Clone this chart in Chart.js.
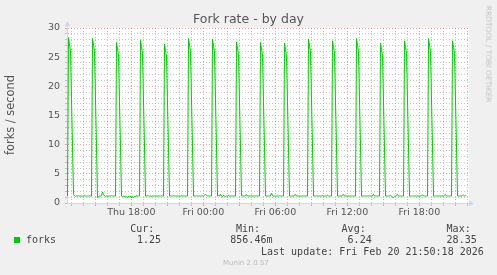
<!DOCTYPE html>
<html>
<head>
<meta charset="utf-8">
<script src="https://cdn.jsdelivr.net/npm/chart.js@4.4.1/dist/chart.umd.min.js"></script>
<style>
  body { margin: 0; background: #f0f0f0; }
  #wrap { position: relative; width: 497px; height: 275px; overflow: hidden; }
  #c { position: absolute; left: 0; top: 0; }
  .t { position: absolute; white-space: nowrap; color: #555; font-family: "DejaVu Sans", sans-serif; }
  .m { position: absolute; white-space: nowrap; color: #444; font-family: "DejaVu Sans Mono", monospace; font-size: 10px; line-height: 10px; }
</style>
</head>
<body>
<div id="wrap">
  <canvas id="c" width="497" height="275"></canvas>
  <div class="t" style="left:0;width:497px;text-align:center;top:13px;font-size:12.5px;line-height:12.5px">Fork rate - by day</div>
  <div class="t" style="left:10px;top:115px;font-size:11.4px;line-height:12px;transform:translate(-50%,-50%) rotate(-90deg)">forks / second</div>
  <div class="t" style="left:487.5px;top:53.5px;font-size:7.5px;line-height:8px;color:#c4c4c4;transform:translate(-50%,-50%) rotate(90deg)">RRDTOOL / TOBI OETIKER</div>
  <div style="position:absolute;left:14px;top:237px;width:6px;height:6px;background:#00cc00"></div>
  <div id="legend"></div>
  <div class="m" style="left:261px;top:246.5px">Last update: Fri Feb 20 21:50:18 2026</div>
  <div class="t" style="left:223px;top:260px;font-size:7px;line-height:7px;color:#bbb">Munin 2.0.57</div>
</div>
<script>
// x axis: hours since Thu 00:00, one sample every 5 minutes
var firstHour = 12.64;
var lastHour = 46.14;
var stepHours = 5 / 60;

var tickHours = [18, 24, 30, 36, 42];
var tickText = ['Thu 18:00', 'Fri 00:00', 'Fri 06:00', 'Fri 12:00', 'Fri 18:00'];

var seriesName = 'forks';
var statNames = ['Cur:', 'Min:', 'Avg:', 'Max:'];
var statValues = ['1.25', '856.46m', '6.24', '28.35'];

// forks / second, one row per 2 hours (a spike then the quiet part)
var forks = [
  1.2, 28.35, 27.1, 26.1, 17.9, 9.7, 1.5, 1.2, 1.15, 1.2, 1.2, 1.25, 1.2, 1.2, 1.15, 1.2, 1.2, 1.25, 1.2, 1.2, 1.2, 1.2, 1.25, 1.2,
  1.2, 28.2, 27.0, 26.0, 17.8, 9.7, 0.9, 1.1, 1.2, 1.2, 1.3, 1.9, 1.5, 1.2, 1.1, 1.2, 1.2, 1.15, 1.2, 1.2, 1.25, 1.2, 1.2, 1.2,
  1.2, 27.5, 26.4, 25.4, 17.4, 9.5, 1.2, 1.1, 1.2, 1.0, 1.2, 1.1, 0.9, 1.2, 1.0, 1.2, 0.86, 1.1, 0.95, 1.2, 1.0, 1.3, 1.2, 1.2,
  1.2, 27.9, 26.7, 25.7, 17.6, 9.6, 1.2, 1.2, 1.25, 1.2, 1.2, 1.2, 1.15, 1.2, 1.2, 1.2, 1.25, 1.2, 1.2, 1.2, 1.2, 1.2, 1.25, 1.2,
  1.2, 27.2, 26.1, 25.2, 17.3, 9.4, 1.2, 1.2, 1.2, 1.2, 1.25, 1.2, 1.2, 1.2, 1.2, 1.2, 1.2, 1.2, 1.25, 1.2, 1.2, 1.2, 1.2, 1.2,
  1.2, 28.2, 27.0, 26.0, 17.8, 9.7, 1.2, 1.2, 1.2, 1.25, 1.2, 1.2, 1.2, 1.2, 1.2, 1.25, 1.2, 1.3, 1.5, 1.3, 1.2, 1.2, 1.2, 1.2,
  1.2, 28.1, 26.9, 25.9, 17.8, 9.6, 1.2, 1.3, 1.2, 1.5, 1.2, 1.1, 1.3, 1.2, 1.1, 1.2, 1.2, 1.3, 1.2, 1.2, 1.2, 1.2, 1.2, 1.2,
  1.2, 27.6, 26.5, 25.5, 17.5, 9.5, 1.2, 1.2, 1.2, 1.2, 1.2, 1.45, 1.2, 1.2, 1.2, 1.2, 1.35, 1.2, 1.2, 1.2, 1.2, 1.2, 1.2, 1.2,
  1.2, 27.5, 26.4, 25.4, 17.4, 9.5, 1.2, 1.2, 1.2, 1.2, 1.2, 1.2, 1.7, 1.3, 1.2, 1.2, 1.2, 1.2, 1.2, 1.2, 1.25, 1.2, 1.2, 1.2,
  1.2, 27.4, 26.3, 25.3, 17.4, 9.4, 1.2, 1.2, 1.2, 1.2, 1.2, 1.3, 1.5, 1.2, 1.2, 1.2, 1.2, 1.2, 1.2, 1.2, 1.2, 1.2, 1.2, 1.2,
  1.2, 28.1, 26.9, 25.9, 17.8, 9.6, 1.2, 1.2, 1.2, 1.25, 1.2, 1.2, 1.2, 1.2, 1.2, 1.3, 1.2, 1.2, 1.2, 1.2, 1.3, 1.2, 1.2, 1.2,
  1.2, 27.8, 26.7, 25.7, 17.6, 9.6, 1.2, 1.2, 1.2, 1.2, 1.2, 1.3, 1.5, 1.2, 1.2, 1.2, 1.2, 1.2, 1.2, 1.2, 1.2, 1.2, 1.2, 1.2,
  1.2, 28.2, 27.0, 26.0, 17.8, 9.7, 1.2, 1.2, 1.2, 1.2, 1.2, 1.2, 1.2, 1.25, 1.2, 1.2, 1.2, 1.2, 1.5, 1.2, 1.2, 1.2, 1.2, 1.2,
  1.2, 27.4, 26.3, 25.3, 17.4, 9.4, 1.2, 1.2, 1.2, 1.2, 1.2, 1.35, 1.1, 1.0, 0.9, 1.1, 1.2, 1.3, 1.5, 1.2, 1.2, 1.2, 1.2, 1.2,
  1.2, 27.8, 26.7, 25.7, 17.6, 9.6, 1.2, 1.2, 1.2, 1.2, 1.2, 1.2, 1.2, 1.2, 1.2, 1.2, 1.2, 1.2, 1.3, 1.4, 1.2, 1.2, 1.2, 1.2,
  1.2, 28.2, 27.0, 26.0, 17.8, 9.7, 1.2, 1.2, 1.2, 1.2, 1.2, 1.2, 1.2, 1.2, 1.2, 1.2, 1.2, 1.3, 1.5, 1.2, 1.2, 1.2, 1.2, 1.2,
  1.2, 27.8, 26.7, 25.7, 17.6, 9.6, 1.2, 1.2, 1.2, 1.2, 1.2, 1.3, 1.35, 1.2, 1.25, 1.25
];

var minorGrid = 'rgba(140,140,140,0.5)';
var majorGrid = 'rgba(210,60,60,0.45)';
var axisColor = '#cfd6f8';

// legend row under the graph
var legend = document.getElementById('legend');
var statLeft = [130.3, 236, 341.6, 446.6];
var valueLeft = [137, 230.3, 347.6, 446.6];
legend.innerHTML = '<div class="m" style="left:26px;top:235px">' + seriesName + '</div>';
for (var i = 0; i < statNames.length; i++) {
    legend.innerHTML += '<div class="m" style="left:' + statLeft[i] + 'px;top:224px">' + statNames[i] + '</div>';
    legend.innerHTML += '<div class="m" style="left:' + valueLeft[i] + 'px;top:235px">' + statValues[i] + '</div>';
}

// each sample sits in the middle of its 5 minute slot
var points = forks.map(function (v, i) { return { x: firstHour + (i + 0.5) * stepHours, y: v }; });

var canvasBg = {
    id: 'canvasBg',
    beforeDraw: function (chart) {
        var a = chart.chartArea, c = chart.ctx;
        c.save();
        c.fillStyle = '#ffffff';
        c.fillRect(a.left, a.top, a.right - a.left, a.bottom - a.top);
        c.restore();
    }
};

// small arrow heads at the end of both axes
var arrows = {
    id: 'arrows',
    afterDraw: function (chart) {
        var a = chart.chartArea, c = chart.ctx;
        var x0 = Math.round(a.left) + 0.5, y0 = Math.round(a.bottom) + 0.5;
        c.save();
        c.strokeStyle = axisColor;
        c.fillStyle = axisColor;
        c.lineWidth = 1;
        c.beginPath();
        c.moveTo(x0, a.top); c.lineTo(x0, a.top - 3);
        c.moveTo(a.right, y0); c.lineTo(a.right + 2, y0);
        c.stroke();
        c.beginPath();
        c.moveTo(x0, a.top - 7); c.lineTo(x0 - 3, a.top - 2); c.lineTo(x0 + 3, a.top - 2); c.closePath();
        c.moveTo(a.right + 5, y0); c.lineTo(a.right, y0 - 3); c.lineTo(a.right, y0 + 3); c.closePath();
        c.fill();
        c.restore();
    }
};

var ctx = document.getElementById('c');
var myChart = new Chart(ctx, {
    type: 'line',
    data: {
        datasets: [{
            label: seriesName,
            data: points,
            borderColor: '#00cc00',
            borderWidth: 1,
            pointRadius: 0,
            tension: 0,
            fill: false
        }]
    },
    options: {
        responsive: false,
        animation: false,
        events: [],
        layout: { padding: { left: 0, right: 28, top: 28, bottom: 0 } },
        plugins: {
            legend: { display: false },
            title: { display: false },
            tooltip: { enabled: false }
        },
        scales: {
            x: {
                type: 'linear',
                min: firstHour,
                max: lastHour,
                afterFit: function (s) { s.height = 72; },
                ticks: {
                    stepSize: 1,
                    maxTicksLimit: 100,
                    includeBounds: false,
                    autoSkip: false,
                    maxRotation: 0,
                    padding: 1,
                    color: '#555',
                    font: { family: 'DejaVu Sans', size: 9.5 },
                    callback: function (v) {
                        var k = tickHours.indexOf(Math.round(v));
                        return k >= 0 && Math.abs(v - tickHours[k]) < 0.01 ? tickText[k] : '';
                    }
                },
                grid: {
                    color: function (c) { return Math.round(c.tick.value) % 3 === 0 ? majorGrid : minorGrid; },
                    tickColor: function (c) { return Math.round(c.tick.value) % 3 === 0 ? majorGrid : minorGrid; },
                    tickLength: 3
                },
                border: { color: axisColor, dash: [1, 2] }
            },
            y: {
                min: 0,
                max: 30,
                afterFit: function (s) { s.width = 67; },
                ticks: {
                    stepSize: 1,
                    maxTicksLimit: 100,
                    autoSkip: false,
                    padding: 5,
                    color: '#555',
                    font: { family: 'DejaVu Sans', size: 9.5 },
                    callback: function (v) { return v % 5 === 0 ? String(v) : ''; }
                },
                grid: {
                    color: function (c) { return c.tick.value % 5 === 0 ? majorGrid : minorGrid; },
                    tickColor: function (c) { return c.tick.value % 5 === 0 ? majorGrid : minorGrid; },
                    tickLength: 2
                },
                border: { color: axisColor, dash: [1, 2] }
            }
        }
    },
    plugins: [canvasBg, arrows]
});
</script>
</body>
</html>
